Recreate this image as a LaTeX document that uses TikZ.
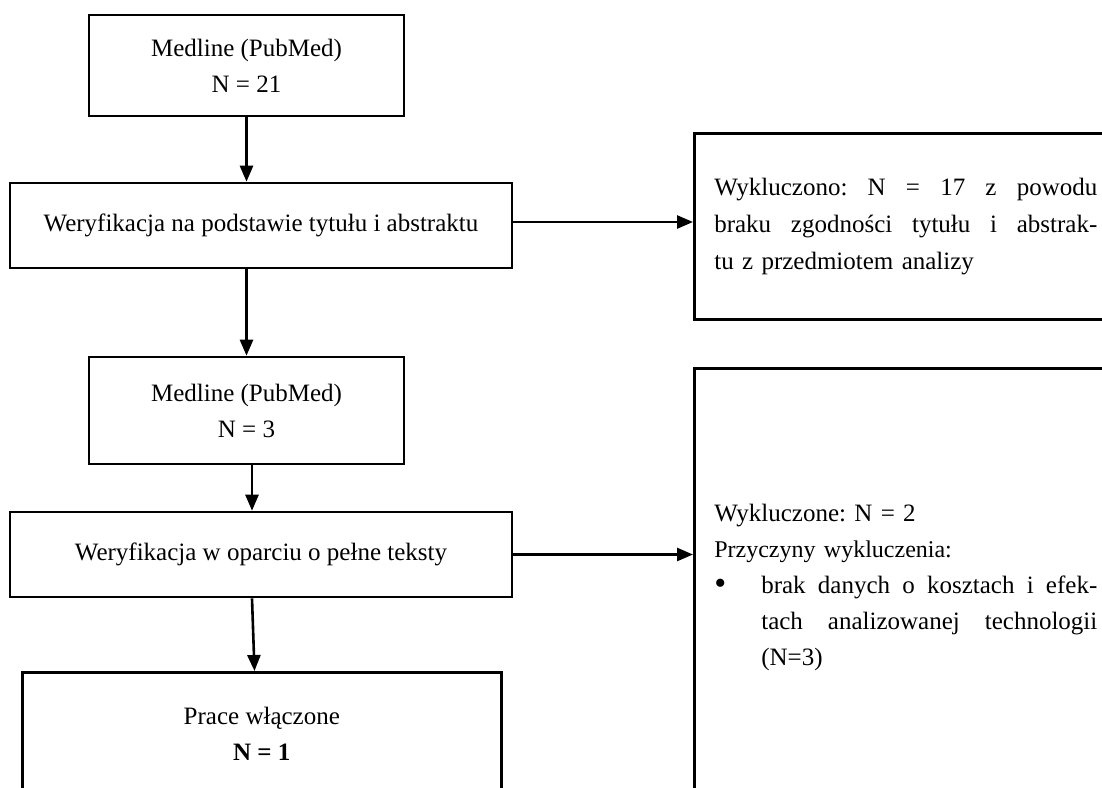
\documentclass[tikz,border=0pt]{standalone}
\usepackage{fontspec}
\setmainfont{Liberation Serif}
\usetikzlibrary{arrows.meta,calc}
\frenchspacing
\newcommand\fs{\fontsize{25}{36}\selectfont}
\newcommand\jline[2]{\leavevmode\hbox to #1{#2}}
\newcommand\bigbullet{\raisebox{-1.5pt}{\fontsize{34}{36}\selectfont •}}
\begin{document}
\begin{tikzpicture}[x=1pt,y=-1pt,
  box/.style={draw, line width=2.6pt, inner sep=0pt, align=center, font=\fs},
  sidebox/.style={draw, line width=2.6pt, anchor=north west, text width=383pt,
    inner xsep=20pt, inner ysep=0pt, align=left},
  arr/.style={line width=2.6pt, -{Triangle[length=16pt,width=13pt]}}]
\useasboundingbox (0,0) rectangle (1102,787);
\clip (0,0) rectangle (1102,787);

\node[box, minimum width=315pt, minimum height=101pt] (b1) at (246.5,65.5)
  {Medline (PubMed)\\N = 21};
\node[box, minimum width=502pt, minimum height=85pt] (b2) at (261,225.5)
  {Weryfikacja na podstawie tytułu i abstraktu};
\node[box, minimum width=315pt, minimum height=107pt] (b4) at (246.5,410.5)
  {Medline (PubMed)\\N = 3};
\node[box, minimum width=502pt, minimum height=85pt] (b5) at (261,554.5)
  {Weryfikacja w oparciu o pełne teksty};
\node[box, anchor=north west, minimum width=479pt, minimum height=124pt] (b6) at (21,671)
  {Prace włączone\\\textbf{N = 1}};

\node[sidebox, minimum height=186pt, font=\fontsize{25}{37}\selectfont] (b3) at (693,132)
  {\jline{383pt}{Wykluczono:\hfill N\hfill =\hfill 17\hfill z\hfill powodu}\\
   \jline{383pt}{braku\hfill zgodności\hfill tytułu\hfill i\hfill abstrak-}\\
   tu z przedmiotem analizy};

\node[sidebox, minimum height=438pt, font=\fontsize{25}{36}\selectfont] (b7) at (693,367)
  {Wykluczone: N = 2\\
   {\fontsize{24}{36}\selectfont Przyczyny wykluczenia:}\\
   \makebox[47pt][l]{\bigbullet}\hbox to 336pt{brak\hfill danych\hfill o\hfill kosztach\hfill i\hfill efek-}\\
   \hspace*{47pt}\hbox to 336pt{tach\hfill analizowanej\hfill technologii}\\
   \hspace*{47pt}(N=3)};

\draw[arr] (b1.south) -- (b1.south |- b2.north);
\draw[arr] (b1.south |- b2.south) -- (b1.south |- b4.north);
\coordinate (c1) at ([xshift=5.5pt]b4.south);
\coordinate (c2) at ([xshift=8pt]b4.south);
\draw[arr] (c1) -- (c1 |- b5.north);
\draw[arr] (c1 |- b5.south) -- (c2 |- b6.north);
\coordinate (a1) at ([yshift=3.5pt]b2.east);
\draw[arr] (a1) -- (a1 -| b3.west);
\draw[arr] (b5.east) -- (b5.east -| b7.west);
\end{tikzpicture}
\end{document}
